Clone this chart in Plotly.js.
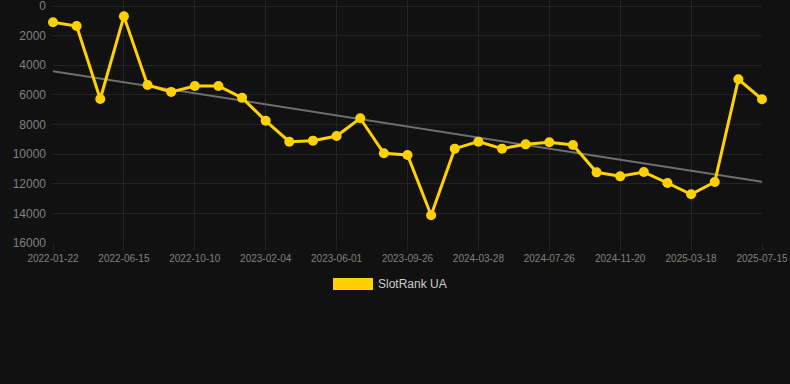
<!DOCTYPE html>
<html>
<head>
<meta charset="utf-8">
<script src="https://cdn.plot.ly/plotly-3.0.1.min.js"></script>
<style>
html,body{margin:0;padding:0;background:#111111;}
#chart{width:790px;height:384px;}
</style>
</head>
<body>
<div id="chart"></div>
<script>
const dates = [
  "2022-01-22","2022-03-08","2022-04-24","2022-06-15","2022-07-24","2022-09-01",
  "2022-10-10","2022-11-18","2022-12-27","2023-02-04","2023-03-15","2023-04-23",
  "2023-06-01","2023-07-10","2023-08-18","2023-09-26","2023-11-27","2024-01-27",
  "2024-03-28","2024-05-07","2024-06-16","2024-07-26","2024-09-03","2024-10-12",
  "2024-11-20","2024-12-29","2025-02-07","2025-03-18","2025-04-26","2025-06-05",
  "2025-07-15"
];
const rankValues = [
  1100, 1350, 6280, 700, 5330, 5800,
  5400, 5400, 6200, 7750, 9160, 9090,
  8780, 7580, 9945, 10060, 14130, 9630,
  9160, 9630, 9340, 9200, 9385, 11230,
  11500, 11210, 11950, 12710, 11880, 4950,
  6300
];
const seriesName = "SlotRank UA";
const yTicks = [0, 2000, 4000, 6000, 8000, 10000, 12000, 14000, 16000];
const yTickText = ["0", "2000", "4000", "6000", "8000", "10000", "12000", "14000", "16000"];

// linear trend from the data (least squares on index)
const n = rankValues.length;
let sx = 0, sy = 0, sxx = 0, sxy = 0;
rankValues.forEach((v, i) => { sx += i; sy += v; sxx += i * i; sxy += i * v; });
const slope = (n * sxy - sx * sy) / (n * sxx - sx * sx);
const intercept = (sy - slope * sx) / n;
const trendValues = dates.map((d, i) => intercept + slope * i);

const gold = "#FFD100";
const gridCol = "#242424";

const traces = [
  {
    x: dates, y: trendValues, type: "scatter", mode: "lines",
    line: {color: "#6e6e6e", width: 2}, hoverinfo: "skip", showlegend: false,
    cliponaxis: false
  },
  {
    x: dates, y: rankValues, type: "scatter", mode: "lines+markers",
    name: seriesName,
    line: {color: gold, width: 3},
    marker: {color: gold, size: 10},
    showlegend: false, cliponaxis: false
  }
];

const tickDates = dates.filter((d, i) => i % 3 === 0);

const layout = {
  width: 790, height: 384,
  paper_bgcolor: "#111111", plot_bgcolor: "#111111",
  margin: {l: 53, r: 28, t: 0, b: 141},
  font: {family: "Liberation Sans, Arial, sans-serif", color: "#808080"},
  showlegend: false,
  xaxis: {
    type: "category", range: [0, 30],
    tickmode: "array", tickvals: tickDates, ticktext: tickDates,
    tickfont: {size: 10, color: "#808080"},
    showgrid: true, gridcolor: gridCol, gridwidth: 1,
    zeroline: false, showline: false,
    ticks: "outside", ticklen: 6, tickcolor: gridCol,
    ticklabeloverflow: "allow"
  },
  yaxis: {
    type: "linear", autorange: false, range: [16000, -405],
    tickmode: "array", tickvals: yTicks, ticktext: yTickText,
    tickfont: {size: 12, color: "#808080"},
    showgrid: true, gridcolor: gridCol, gridwidth: 1,
    zeroline: false, showline: false, ticks: "", ticklabelstandoff: 6,
    ticklabeloverflow: "allow"
  },
  shapes: [
    {type: "rect", xref: "paper", yref: "paper",
     x0: (333 - 53) / 709, x1: (373 - 53) / 709,
     y0: (243 - 290) / 243, y1: (243 - 278) / 243,
     fillcolor: gold, line: {width: 0}}
  ],
  annotations: [
    {text: seriesName, xref: "paper", yref: "paper",
     x: (376 - 53) / 709, y: (243 - 284) / 243,
     xanchor: "left", yanchor: "middle", showarrow: false,
     font: {size: 12, color: "#cccccc"}}
  ]
};

Plotly.newPlot("chart", traces, layout, {displayModeBar: false, staticPlot: true});
</script>
</body>
</html>
